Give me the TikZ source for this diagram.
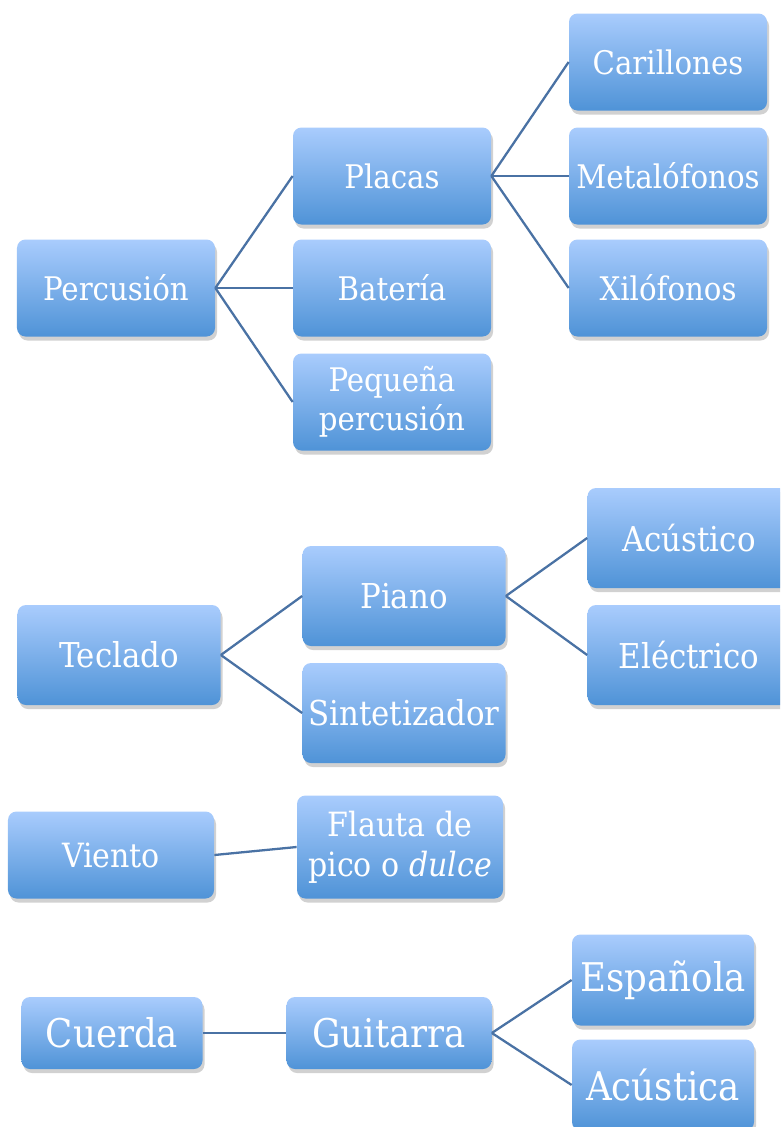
\documentclass[tikz,border=0pt]{standalone}
\usepackage{fontspec}
\setmainfont{DejaVu Serif Condensed}
\usetikzlibrary{shadows}

\begin{document}
\begin{tikzpicture}[
    x=0.2mm, y=-0.2mm,
    every node/.style={font=\fontsize{18.5}{22}\selectfont},
]

% ---------------------------------------------------------------- colours
\definecolor{boxtop}{HTML}{A9CCFD}    % light top of every box
\definecolor{boxbottom}{HTML}{4F93D7} % darker foot of every box
\definecolor{linkcolor}{HTML}{4A72A4} % the branches

% ---------------------------------------------------------------- styles
\tikzset{
    item/.style={
        rectangle, rounded corners=1.7mm, align=center,
        top color=boxtop, bottom color=boxbottom, draw=none,
        text=white, inner sep=1pt,
        drop shadow={shadow xshift=0.4mm, shadow yshift=-0.8mm,
                     opacity=0.3, fill=black!60},
    },
    perc/.style={item, minimum width=39.6mm, minimum height=19.4mm},
    keys/.style={item, minimum width=40.6mm, minimum height=20mm,
                 font=\fontsize{19.5}{23}\selectfont},
    wind/.style={item, minimum width=41.2mm,
                 font=\fontsize{19}{23}\selectfont},
    strg/.style={item, minimum height=14.4mm,
                 font=\fontsize{22.5}{26}\selectfont},
    link/.style={draw=linkcolor, line width=1.3pt},
}

% frame of the page: the right column of boxes runs off its edge
\useasboundingbox (0,0) rectangle (780,1127);
\clip (0,0) rectangle (780,1127);

% ---------------------------------------------------------------- percusión
\node[perc] (perc)    at (116, 288) {Percusión};
\node[perc] (placas)  at (392, 176) {Placas};
\node[perc] (bateria) at (392, 288) {Batería};
\node[perc] (pequena) at (392, 402) {Pequeña\\percusión};
\node[perc] (carill)  at (668,  62) {Carillones};
\node[perc] (metal)   at (668, 176) {Metalófonos};
\node[perc] (xilo)    at (668, 288) {Xilófonos};

\foreach \n in {placas, bateria, pequena}
    \draw[link] (perc.east) -- (\n.west);
\foreach \n in {carill, metal, xilo}
    \draw[link] (placas.east) -- (\n.west);

% ---------------------------------------------------------------- teclado
\node[keys] (tecl)      at (119, 655) {Teclado};
\node[keys] (piano)     at (404, 596) {Piano};
\node[keys] (sinte)     at (404, 713) {Sintetizador};
\node[keys] (acustico)  at (689, 538) {Acústico};
\node[keys] (electrico) at (689, 655) {Eléctrico};

\foreach \n in {piano, sinte}
    \draw[link] (tecl.east) -- (\n.west);
\foreach \n in {acustico, electrico}
    \draw[link] (piano.east) -- (\n.west);

% ---------------------------------------------------------------- viento
\node[wind, minimum height=17.4mm] (viento) at (111, 855) {Viento};
\node[wind, minimum height=20.6mm] (flauta) at (400, 847)
    {Flauta de\\pico o \emph{dulce}};

\draw[link] (viento.east) -- (flauta.west);

% ---------------------------------------------------------------- cuerda
\node[strg, minimum width=36.2mm] (cuerda)   at (112, 1033) {Cuerda};
\node[strg, minimum width=41mm]   (guitarra) at (389, 1033) {Guitarra};
\node[strg, minimum width=36.4mm, minimum height=18.2mm] (espanola)
    at (663, 980) {Española};
\node[strg, minimum width=36.4mm, minimum height=18.2mm] (acustica)
    at (663, 1085) {Acústica};

\draw[link] (cuerda.east) -- (guitarra.west);
\foreach \n in {espanola, acustica}
    \draw[link] (guitarra.east) -- (\n.west);

\end{tikzpicture}
\end{document}
